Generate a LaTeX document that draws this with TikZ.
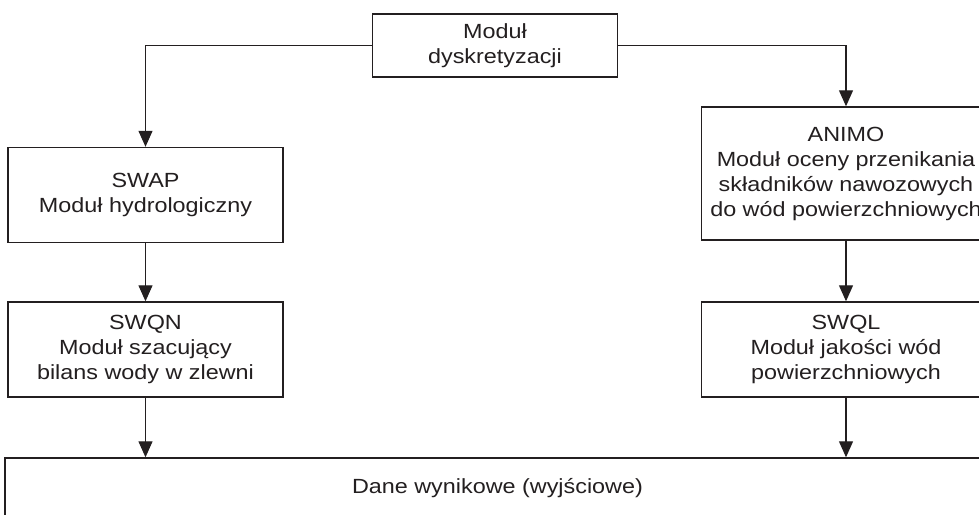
\documentclass[tikz,border=0pt]{standalone}
\usepackage{fontspec}
\setmainfont{Liberation Sans}[FakeStretch=1.14]
\usetikzlibrary{arrows.meta,positioning}
\definecolor{inkblack}{RGB}{35,31,32}
\tikzset{
  module/.style={rectangle, draw=inkblack, line width=1.4pt, fill=white, text=inkblack,
                 minimum width=275pt, minimum height=95pt, align=center,
                 font=\fontsize{20.5}{25}\selectfont, inner sep=0pt},
  modwide/.style={module, minimum width=289pt},
  arrow/.style={-{Triangle[length=16pt, width=14pt]}, line width=1.2pt, inkblack},
}
\begin{document}
\begin{tikzpicture}[x=1pt, y=-1pt]
\useasboundingbox (0,0) rectangle (979,514);
\clip (0,0) rectangle (979,514);
% Top: discretisation
\node[module, minimum width=245pt, minimum height=63pt] (disc) at (495,45.5) {Moduł\\dyskretyzacji};

% Left: hydrology
\node[module] (swap) at (145.5,195) {SWAP\\Moduł hydrologiczny};
\node[module] (swqn) at (145.5,349.5) {SWQN\\Moduł szacujący\\bilans wody w zlewni};

% Right: water quality
\node[modwide, minimum height=133pt] (animo) at (846,173.5) {ANIMO\\Moduł oceny przenikania\\składników nawozowych\\do wód powierzchniowych};
\node[modwide] (swql) at (846,349.5) {SWQL\\Moduł jakości wód\\powierzchniowych};

% Bottom: output
\node[module, minimum width=985pt, minimum height=60pt] (out) at (497.5,488) {Dane wynikowe (wyjściowe)};

\draw[arrow] (disc.west) -| (swap.north);
\draw[arrow] (disc.east) -| (animo.north);
\draw[arrow] (swap) -- (swqn);
\draw[arrow] (animo) -- (swql);
\draw[arrow] (swqn.south) -- (swqn.south |- out.north);
\draw[arrow] (swql.south) -- (swql.south |- out.north);
\end{tikzpicture}
\end{document}
